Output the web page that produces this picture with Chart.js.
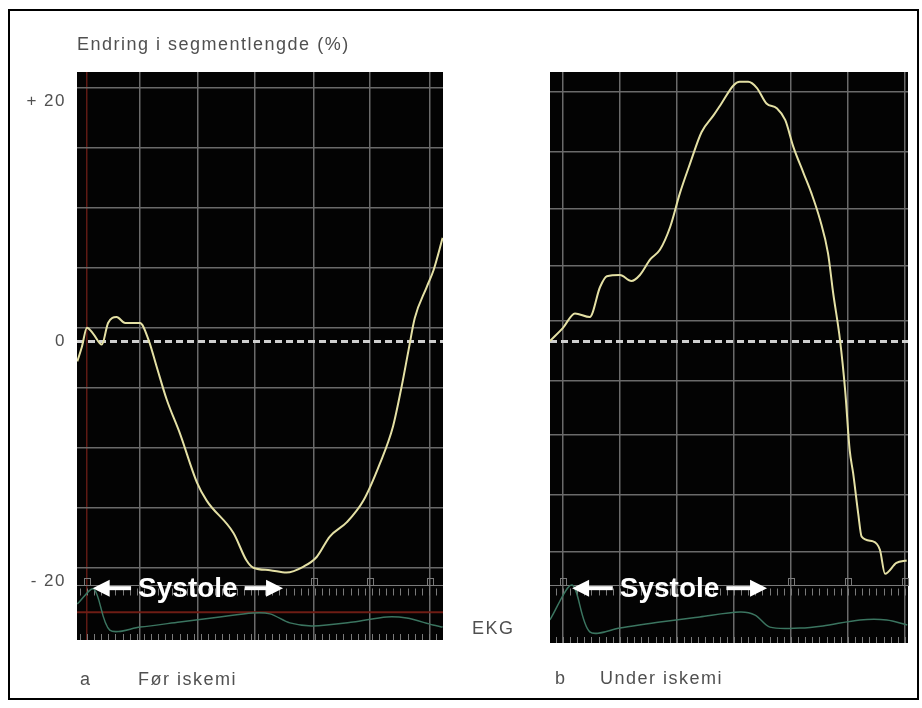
<!DOCTYPE html>
<html lang="no">
<head>
<meta charset="utf-8">
<title>Endring i segmentlengde</title>
<script src="https://cdn.jsdelivr.net/npm/chart.js@4.4.1/dist/chart.umd.min.js"></script>
<style>
  body { margin: 0; background: #fff; width: 922px; height: 708px; position: relative; overflow: hidden; }
  #frame { position: absolute; left: 8px; top: 9px; width: 907px; height: 687px; border: 2px solid #000; }
  canvas { position: absolute; top: 0; }
  #chartA { left: 0; }
  #chartB { left: 470px; }
  .lbl { position: absolute; font: 18px "Liberation Sans", Arial, sans-serif; line-height: 18px; letter-spacing: 1.5px; color: #505050; white-space: nowrap; }
</style>
</head>
<body>
<div id="frame"></div>
<canvas id="chartA" width="470" height="708"></canvas>
<canvas id="chartB" width="452" height="708"></canvas>
<div class="lbl" style="left:77px;top:35px">Endring i segmentlengde (%)</div>
<div class="lbl" style="left:472px;top:619px">EKG</div>
<div class="lbl" style="left:80px;top:670px">a</div>
<div class="lbl" style="left:138px;top:670px">Før iskemi</div>
<div class="lbl" style="left:555px;top:669px">b</div>
<div class="lbl" style="left:600px;top:669px">Under iskemi</div>
<script>
// a: før iskemi (time in ms, segment length change in %)
const timeA = [-17, -9, 0, 11, 26, 37, 52, 67, 93, 108, 122, 140, 163, 193, 210, 257, 280, 292, 321, 350, 380, 403, 426, 456, 485, 514, 537, 552, 564, 575, 596, 608, 624];
const lengthA = [-1.7, -0.5, 1.1, 0.6, -0.3, 1.5, 2.0, 1.5, 1.5, 0.1, -2.1, -4.9, -7.7, -11.8, -13.3, -16.0, -18.3, -18.9, -19.1, -19.3, -18.8, -18.0, -16.3, -15.1, -13.3, -10.2, -7.1, -3.8, -0.8, 1.9, 4.5, 5.9, 8.6];
const ekgTimeA = [-17, 12, 40, 93, 163, 233, 291, 321, 356, 396, 467, 526, 561, 607, 624];
const ekgA = [0.8, 1.3, -0.07, 0.03, 0.2, 0.37, 0.5, 0.47, 0.17, 0.07, 0.2, 0.37, 0.33, 0.1, 0.03];

// b: under iskemi
const timeB = [-23, 0, 21, 47, 65, 77, 100, 120, 135, 153, 170, 188, 205, 223, 243, 264, 278, 299, 310, 325, 340, 357, 375, 390, 404, 422, 436, 451, 465, 474, 486, 495, 503, 509, 518, 524, 544, 556, 565, 585, 603];
const lengthB = [0.0, 1.1, 2.3, 2.0, 4.5, 5.4, 5.5, 5.0, 5.5, 6.8, 7.6, 9.5, 12.3, 14.8, 17.4, 18.8, 19.8, 21.3, 21.6, 21.6, 21.1, 19.8, 19.4, 18.4, 16.2, 14.0, 12.3, 10.1, 7.3, 4.0, 0.1, -4.1, -9.1, -11.0, -14.4, -16.3, -16.7, -17.4, -19.4, -18.5, -18.3];
const ekgTimeB = [-23, 16, 47, 100, 170, 240, 310, 337, 363, 416, 456, 521, 568, 604];
const ekgB = [0.27, 1.43, -0.13, 0, 0.2, 0.37, 0.53, 0.43, 0.03, 0, 0.07, 0.27, 0.27, 0.1];

// axis ticks and screen grid
const yTicks = [20, 0, -20];
const gridTimesA = [0, 93, 195, 295, 398, 496, 602];
const gridTimesB = [0, 100, 200, 300, 400, 500, 600];
const gridLevelsA = [21.1, 16.1, 11.1, 6.1, 1.1, -3.9, -8.9, -13.9, -18.9];
const gridLevelsB = [20.8, 15.8, 11.0, 6.3, 1.7, -3.3, -7.8, -12.8, -17.6];
const systoleA = [10, 344];
const systoleB = [16, 358];

const FONT = '"Liberation Sans", Arial, sans-serif';
const minorStep = 12.5;

const toPoints = (xs, ys) => xs.map((x, i) => ({x, y: ys[i]}));

const screenPlugin = {
	id: 'screen',
	beforeDraw(chart) {
		const {ctx, chartArea: {left, top, width, height}} = chart;
		ctx.save();
		ctx.fillStyle = '#030303';
		ctx.fillRect(left, top, width, height);
		ctx.restore();
		// tick labels in the original are loosely spaced
		ctx.letterSpacing = '1.5px';
	},
	beforeDatasetsDraw(chart, args, opts) {
		const {ctx, chartArea: {left, right, bottom}} = chart;
		const x = chart.scales.x, y = chart.scales.y;
		const ry = Math.round(y.getPixelForValue(opts.rulerLevel)) + 0.5;

		ctx.save();
		ctx.strokeStyle = '#7a7a7a';
		ctx.lineWidth = 1;
		ctx.beginPath();
		ctx.moveTo(left, ry);
		ctx.lineTo(right, ry);
		for (let t = Math.ceil(x.min / minorStep) * minorStep; t <= x.max; t += minorStep) {
			const px = Math.round(x.getPixelForValue(t)) + 0.5;
			ctx.moveTo(px, ry + 3);
			ctx.lineTo(px, ry + 10);
			ctx.moveTo(px, bottom - 6);
			ctx.lineTo(px, bottom);
		}
		ctx.stroke();

		// little markers on the ruler outside the systole span
		opts.gridTimes.forEach(t => {
			if (t >= opts.systole[0] - 5 && t <= opts.systole[1] + 15) return;
			const px = Math.round(x.getPixelForValue(t)) + 0.5;
			ctx.strokeRect(px - 3, ry - 7, 6, 7);
		});

		if (opts.redLevel !== undefined) {
			const py = y.getPixelForValue(opts.redLevel);
			ctx.strokeStyle = '#6e1d15';
			ctx.lineWidth = 2;
			ctx.beginPath();
			ctx.moveTo(left, py);
			ctx.lineTo(right, py);
			ctx.stroke();
		}
		ctx.restore();
	},
	afterDatasetsDraw(chart, args, opts) {
		const {ctx} = chart;
		const x = chart.scales.x, y = chart.scales.y;
		const x0 = x.getPixelForValue(opts.systole[0]);
		const x1 = x.getPixelForValue(opts.systole[1]);
		const cy = y.getPixelForValue(opts.systoleLevel);
		const label = 'Systole';

		ctx.save();
		ctx.letterSpacing = '0px';
		ctx.font = 'bold 28px ' + FONT;
		ctx.fillStyle = '#ffffff';
		ctx.textAlign = 'center';
		ctx.textBaseline = 'middle';
		const w = ctx.measureText(label).width;
		const mid = (x0 + x1) / 2;
		const head = 17, half = 8.5, gap = 7;
		ctx.fillText(label, mid, cy + 1);

		// shafts
		ctx.fillRect(x0 + head - 1, cy - 2, (mid - w / 2 - gap) - (x0 + head - 1), 4);
		ctx.fillRect(mid + w / 2 + gap, cy - 2, (x1 - head + 1) - (mid + w / 2 + gap), 4);

		// heads
		ctx.beginPath();
		ctx.moveTo(x0, cy);
		ctx.lineTo(x0 + head, cy - half);
		ctx.lineTo(x0 + head, cy + half);
		ctx.closePath();
		ctx.moveTo(x1, cy);
		ctx.lineTo(x1 - head, cy - half);
		ctx.lineTo(x1 - head, cy + half);
		ctx.closePath();
		ctx.fill();
		ctx.restore();
	}
};

function makeChart(canvasId, p) {
	const noWidth = s => { s.width = 0; };
	const gridGray = '#6a6a6a';

	return new Chart(document.getElementById(canvasId), {
		type: 'line',
		data: {
			datasets: [{
				label: 'Segmentlengde',
				data: toPoints(p.times, p.lengths),
				yAxisID: 'y',
				borderColor: '#e4e0a4',
				borderWidth: 2,
				pointRadius: 0,
				cubicInterpolationMode: 'monotone'
			}, {
				label: 'EKG',
				data: toPoints(p.ekgTimes, p.ekg),
				yAxisID: 'ekg',
				borderColor: '#3b7560',
				borderWidth: 1.5,
				pointRadius: 0,
				tension: 0.3
			}]
		},
		options: {
			responsive: false,
			animation: false,
			layout: { padding: p.padding },
			plugins: {
				legend: { display: false },
				tooltip: { enabled: false },
				screen: {
					systole: p.systole,
					systoleLevel: -20.6,
					rulerLevel: -20.3,
					redLevel: p.redLevel,
					gridTimes: p.gridTimes
				}
			},
			scales: {
				x: {
					type: 'linear',
					min: p.xRange[0],
					max: p.xRange[1],
					afterFit: s => { s.height = 0; },
					afterBuildTicks: s => { s.ticks = p.gridTimes.map(v => ({value: v})); },
					ticks: { display: false },
					border: { display: false },
					grid: {
						drawTicks: false,
						lineWidth: 1.5,
						color: c => (p.redStart && c.tick && c.tick.value === 0) ? '#5e1a14' : gridGray
					}
				},
				yGrid: {
					type: 'linear',
					position: 'left',
					min: p.yRange[0],
					max: p.yRange[1],
					afterFit: noWidth,
					afterBuildTicks: s => { s.ticks = p.gridLevels.map(v => ({value: v})); },
					ticks: { display: false },
					border: { display: false },
					grid: { drawTicks: false, lineWidth: 1.5, color: gridGray }
				},
				y: {
					type: 'linear',
					position: 'left',
					min: p.yRange[0],
					max: p.yRange[1],
					// labels are clipped to the axis box, so it needs real width
					afterFit: s => { s.width = p.axisWidth; },
					afterBuildTicks: s => { s.ticks = yTicks.map(v => ({value: v})); },
					ticks: {
						display: p.axisWidth > 0,
						autoSkip: false,
						padding: 11,
						color: '#505050',
						font: { family: FONT, size: 17 },
						callback: v => v > 0 ? '+ ' + v : (v < 0 ? '- ' + Math.abs(v) : '0')
					},
					border: { display: false, dash: [7, 4] },
					grid: {
						drawTicks: false,
						lineWidth: 3,
						color: c => (c.tick && c.tick.value === 0) ? '#cfcfcf' : 'transparent'
					}
				},
				ekg: {
					type: 'linear',
					display: false,
					min: p.ekgRange[0],
					max: p.ekgRange[1]
				}
			}
		},
		plugins: [screenPlugin]
	});
}

makeChart('chartA', {
	times: timeA, lengths: lengthA, ekgTimes: ekgTimeA, ekg: ekgA,
	gridTimes: gridTimesA, gridLevels: gridLevelsA, systole: systoleA,
	xRange: [-17.5, 624.6], yRange: [-24.92, 22.42], ekgRange: [-0.4, 18.53],
	padding: { left: 12, right: 27, top: 72, bottom: 68 }, axisWidth: 65,
	redStart: true, redLevel: -22.6
});

makeChart('chartB', {
	times: timeB, lengths: lengthB, ekgTimes: ekgTimeB, ekg: ekgB,
	gridTimes: gridTimesB, gridLevels: gridLevelsB, systole: systoleB,
	xRange: [-22.8, 605.3], yRange: [-25.17, 22.42], ekgRange: [-0.5, 18.53],
	padding: { left: 80, right: 14, top: 72, bottom: 65 }, axisWidth: 0,
	redStart: false
});
</script>
</body>
</html>
